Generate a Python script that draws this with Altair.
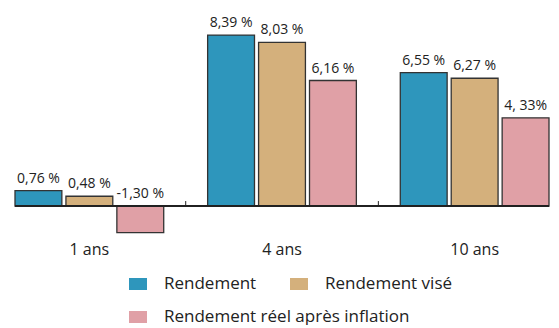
import altair as alt
import pandas as pd

periods = ["1 ans", "4 ans", "10 ans"]
series = ["Rendement", "Rendement visé", "Rendement réel après inflation"]
rendement = [0.76, 8.39, 6.55]
vise = [0.48, 8.03, 6.27]
reel = [-1.30, 6.16, 4.33]
labels_rendement = ["0,76 %", "8,39 %", "6,55 %"]
labels_vise = ["0,48 %", "8,03 %", "6,27 %"]
labels_reel = ["-1,30 %", "6,16 %", "4, 33%"]
colors = ["#2E96BC", "#D4B07C", "#E0A0A6"]

rows = []
for s, vals, labs in zip(series, [rendement, vise, reel], [labels_rendement, labels_vise, labels_reel]):
    for p, v, l in zip(periods, vals, labs):
        rows.append({"period": p, "series": s, "value": v, "label": l})
df = pd.DataFrame(rows)
ticks_df = pd.DataFrame({"period": periods[:2]})

FONT = "Open Sans"
RECT = "M-1,-0.67H1V0.67H-1Z"

x_scale = alt.Scale(domain=periods, paddingInner=0.228, paddingOuter=0)
xo_scale = alt.Scale(domain=series, paddingInner=0.08, paddingOuter=0)
y_scale = alt.Scale(domain=[-1.47, 9.62], nice=False, zero=False)

x_enc = alt.X("period:N", scale=x_scale, sort=periods,
              axis=alt.Axis(title=None, labelAngle=0, domain=False, ticks=False,
                            labelFontSize=16, labelFont=FONT, labelColor="#222",
                            labelPadding=5))
xo_enc = alt.XOffset("series:N", scale=xo_scale, sort=series)
y_enc = alt.Y("value:Q", scale=y_scale, axis=None)

legend_common = dict(title=None, orient="none", direction="horizontal",
                     symbolType=RECT, symbolSize=324,
                     symbolStrokeWidth=0, symbolOpacity=1,
                     labelFont=FONT, labelFontSize=17, labelColor="#222",
                     labelOffset=17, columnPadding=33, labelLimit=400)

bars = alt.Chart(df).mark_bar(stroke="#333", strokeWidth=1.3).encode(
    x=x_enc,
    xOffset=xo_enc,
    y=y_enc,
    y2=alt.datum(0),
    color=alt.Color("series:N",
                    scale=alt.Scale(domain=series, range=colors),
                    legend=alt.Legend(legendX=114, legendY=265, values=series[:2],
                                      **legend_common)),
)

legend2 = alt.Chart(df).transform_filter(
    alt.datum.series == series[2]
).mark_point(opacity=0, filled=True, color=colors[2]).encode(
    x=alt.X("period:N", scale=x_scale, sort=periods),
    xOffset=xo_enc,
    y=alt.Y("value:Q", scale=y_scale),
    shape=alt.Shape("series:N", scale=alt.Scale(domain=[series[2]], range=[RECT]),
                    legend=alt.Legend(legendX=114, legendY=298,
                                      symbolFillColor=colors[2],
                                      **legend_common)),
)

texts = alt.Chart(df).transform_calculate(
    ly="max(datum.value, 0)"
).mark_text(baseline="alphabetic", dy=-8, fontSize=14, font=FONT, color="#222").encode(
    x=alt.X("period:N", scale=x_scale, sort=periods),
    xOffset=xo_enc,
    y=alt.Y("ly:Q", scale=y_scale),
    text="label:N",
)

zero = alt.Chart(df).mark_rule(color="#222", strokeWidth=1).encode(y=alt.datum(0))

ticks = alt.Chart(ticks_df).mark_rule(color="#222", strokeWidth=1, xOffset=22, y2Offset=-5).encode(
    x=alt.X("period:N", scale=x_scale, sort=periods, bandPosition=1),
    y=alt.datum(0),
    y2=alt.datum(0),
)

chart = alt.layer(bars, zero, ticks, texts, legend2).properties(
    width=534, height=226,
    padding={"left": 14, "top": 10, "right": 0, "bottom": 0},
).resolve_scale(xOffset="shared").configure_view(stroke=None)

chart.save("out.html", embed_options={"renderer": "svg", "actions": False})
